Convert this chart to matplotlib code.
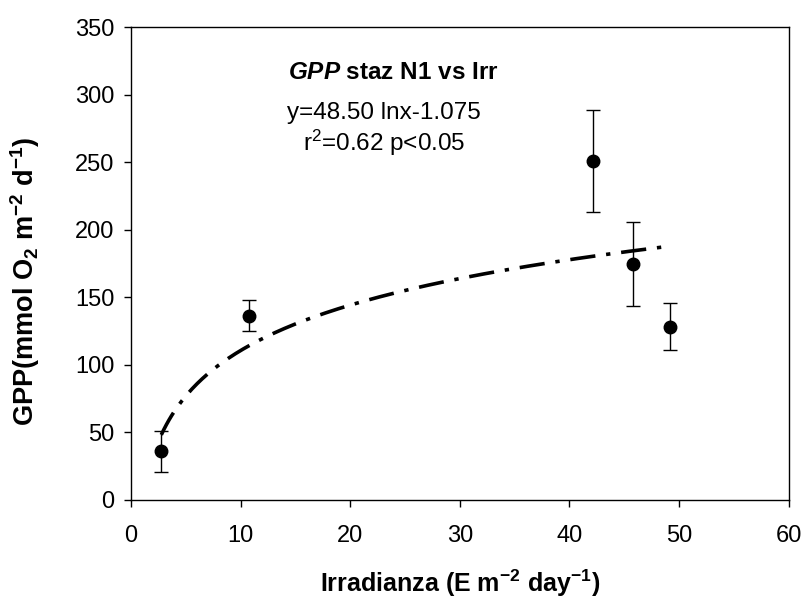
import numpy as np
import matplotlib
matplotlib.use('Agg')
import matplotlib.pyplot as plt

plt.rcParams['font.family'] = ['Liberation Sans', 'DejaVu Sans']
plt.rcParams['mathtext.fontset'] = 'custom'
plt.rcParams['mathtext.rm'] = 'Liberation Sans'
plt.rcParams['mathtext.it'] = 'Liberation Sans:italic'
plt.rcParams['mathtext.bf'] = 'Liberation Sans:bold'
plt.rcParams['mathtext.bfit'] = 'Liberation Sans:italic:bold'

# measured points (irradiance vs GPP) with error bars
vIrr = [2.76, 10.76, 42.16, 45.77, 49.13]
vGpp = [36.0, 136.3, 251.0, 174.7, 128.3]
vErr = [15.1, 11.5, 37.7, 31.4, 17.6]

# log fit shown on the chart: y = a ln x + b
fSlope = 48.50
fIntercept = -1.075

fig = plt.figure(figsize=(8.04, 6.03), dpi=100)
ax = fig.add_axes([0.163, 0.171, 0.818, 0.784])

# fitted curve
vX = np.linspace(min(vIrr), 49.3, 200)
ax.plot(vX, fSlope * np.log(vX) + fIntercept, color='black', lw=2.6,
        linestyle=(0, (7, 3, 1.2, 3)), zorder=2)

ax.errorbar(vIrr, vGpp, yerr=vErr, fmt='o', color='black', ms=9,
            ecolor='black', elinewidth=1, capsize=5, capthick=1, zorder=3)

ax.set_xlim(0, 60)
ax.set_ylim(0, 350)
ax.set_xticks(range(0, 61, 10))
ax.set_yticks(range(0, 351, 50))
ax.tick_params(direction='out', length=5, width=1, labelsize=17)
ax.tick_params(axis='x', pad=13)
ax.tick_params(axis='y', pad=7)
for s in ax.spines.values():
    s.set_linewidth(1)

ax.set_xlabel(r'Irradianza (E m$^{\mathbf{-2}}$ day$^{\mathbf{-1}}$)',
              fontsize=18, fontweight='bold', labelpad=15)
ax.set_ylabel(r'GPP(mmol O$_{\mathbf{2}}$ m$^{\mathbf{-2}}$ d$^{\mathbf{-1}}$)',
              fontsize=19.5, fontweight='bold')
ax.yaxis.set_label_coords(-0.135, 0.463)

# annotation block
ax.text(23.9, 316.5, r'$\mathbfit{GPP}$ staz N1 vs Irr', fontsize=17.5,
        fontweight='bold', ha='center', va='center')
ax.text(23.1, 286.5, 'y=48.50 lnx-1.075', fontsize=17.5, ha='center', va='center')
ax.text(23.1, 264.5, r'r$^2$=0.62 p<0.05', fontsize=17.5, ha='center', va='center')

fig.savefig('out.png', dpi=100)
